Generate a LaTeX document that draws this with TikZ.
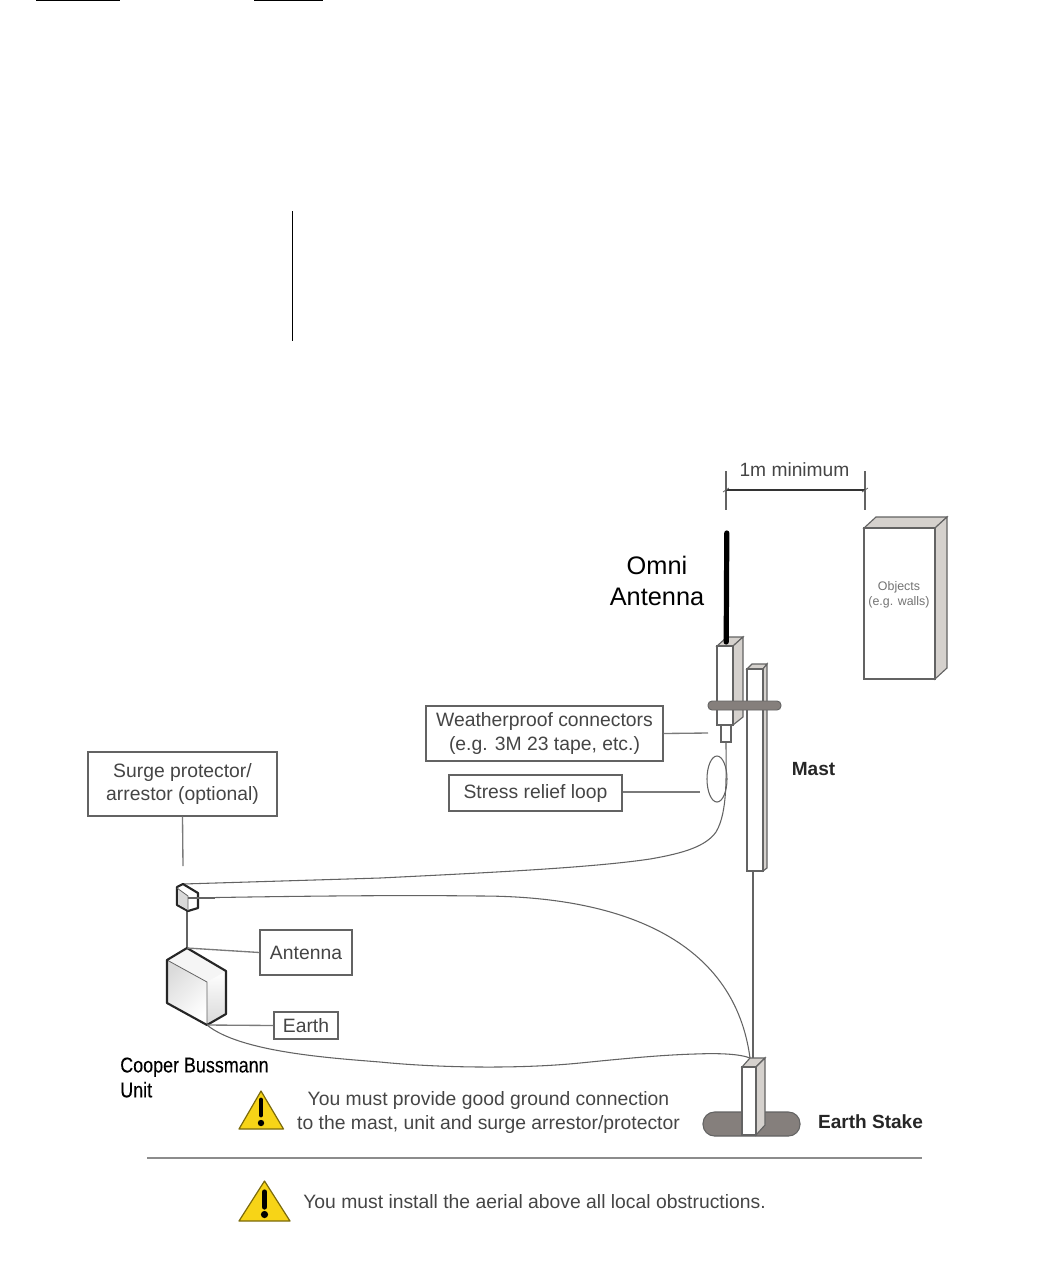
\documentclass[tikz,border=0pt]{standalone}
\usepackage{fontspec}
\usepackage{graphicx}
\setmainfont{Liberation Sans}
\usetikzlibrary{shapes.geometric}
\definecolor{txt}{HTML}{454545}
\definecolor{edge}{HTML}{636363}
\definecolor{sidegray}{HTML}{D5D1CD}
\definecolor{band}{HTML}{857F7C}
\definecolor{warn}{HTML}{F7D417}
\tikzset{
  x=0.75pt,y=-0.75pt,
  labelbox/.style={draw=edge,line width=0.8pt,fill=white,align=center,text=txt,font=\fontsize{14.5pt}{17.5pt}\selectfont,inner sep=0pt,anchor=center},
  leader/.style={draw=edge!85,line width=1pt},
  cable/.style={draw=edge,line width=0.8pt},
  solid3d/.style={draw=edge,line width=0.85pt,fill=white},
  side3d/.style={draw=edge,line width=0.85pt,fill=sidegray},
  caption/.style={text=txt,font=\fontsize{14.5pt}{17.5pt}\selectfont,inner sep=0pt},
  boldcap/.style={text=black!85,font=\bfseries\fontsize{14.3pt}{16pt}\selectfont,inner sep=0pt},
  warntri/.style={draw=black!50!warn,line width=0.9pt,fill=warn,line join=round},
}
\begin{document}
\begin{tikzpicture}
\useasboundingbox (0,0) rectangle (1044,1265);
% page fragments
\draw[black,line width=1.1pt] (36,0.5) -- (120,0.5);
\draw[black,line width=1.1pt] (254,0.5) -- (323,0.5);
\draw[black,line width=0.75pt] (292.5,211) -- (292.5,341);
% dimension
\coordinate (dimL) at (726,490); \coordinate (dimR) at (865,490);
\draw[edge,line width=0.8pt] (726,471) -- (726,510);
\draw[edge,line width=0.8pt] (865,471) -- (865,510);
\draw[black!80,line width=0.9pt] (dimL) -- (dimR);
\draw[edge,line width=0.6pt] (723,492) -- (729,488);
\draw[edge,line width=0.6pt] (862,492) -- (868,488);
\node[caption,font=\fontsize{14.4pt}{16pt}\selectfont] (dimtext) at (794.5,470) {1m minimum};
% objects
\draw[side3d] (864,528) -- (876,517) -- (947,517) -- (935,528) -- cycle;
\draw[side3d] (935,528) -- (947,517) -- (947,668) -- (935,679) -- cycle;
\draw[solid3d] (864,528) rectangle (935,679);
\node[text=black!55,font=\fontsize{9.3pt}{11.3pt}\selectfont,align=center,inner sep=0pt] (objects) at (899,595) {Objects\\(e.g. walls)};
% Earth stake pad
\draw[draw=edge,line width=0.8pt,fill=band,rounded corners=11.5*0.75pt] (703,1112) rectangle (800,1136);
% mast
\draw[side3d] (747,669) -- (752,664) -- (767,664) -- (763,669) -- cycle;
\draw[side3d] (763,669) -- (767,664) -- (767,868) -- (763,871) -- cycle;
\draw[solid3d] (747,669) rectangle (763,871);
% antenna housing
\draw[side3d] (717,646) -- (727,637) -- (743,637) -- (733,646) -- cycle;
\draw[side3d] (733,646) -- (743,637) -- (743,717) -- (733,725) -- cycle;
\draw[solid3d] (717,646) rectangle (733,725);
\draw[black,line width=3.9pt,line cap=round] (726.8,533) -- (726.2,642);
\draw[solid3d] (721,725) rectangle (731,742);
\draw[draw=edge,line width=0.7pt,fill=band,rounded corners=3pt] (708,701) rectangle (781,710);
% ground wire mast to stake
\coordinate (mastfoot) at (753,871);
\coordinate (stakeTop) at (750,1058);
% cables
\coordinate (antfoot) at (726,742);
\draw[cable] (antfoot) .. controls (726,775) and (728,812) .. (716,832)
   .. controls (706,846) and (685,853) .. (650,859)
   .. controls (590,868) and (480,873) .. (380,878)
   -- (183,884);
\coordinate (surgeOut) at (188,898);
\draw[cable] (surgeOut) .. controls (300,896) and (400,895) .. (480,896)
   .. controls (630,896) and (735,945) .. (stakeTop);
\coordinate (unitBase) at (207,1025);
\draw[cable] (unitBase) .. controls (240,1052) and (330,1058) .. (380,1062)
   .. controls (440,1068) and (520,1069) .. (580,1063)
   .. controls (620,1059) and (660,1055) .. (695,1054)
   .. controls (720,1053) and (740,1054) .. (stakeTop);
\draw[edge,line width=0.9pt] (mastfoot) -- (753,1058);
% stake
\draw[side3d] (742,1067) -- (750,1058) -- (765,1058) -- (756,1067) -- cycle;
\draw[side3d] (756,1067) -- (765,1058) -- (765,1125) -- (756,1135) -- cycle;
\draw[solid3d] (742,1067) rectangle (756,1135);
% loop
\node[draw=edge,line width=0.8pt,ellipse,minimum width=20*0.75pt,minimum height=46*0.75pt,inner sep=0pt] (loop) at (717,779) {};
% label boxes
\node[labelbox,minimum width=237*0.75pt,minimum height=55*0.75pt] (weather) at (544.5,733.5) {Weatherproof connectors\\(e.g. 3M 23 tape, etc.)};
\node[labelbox,minimum width=173*0.75pt,minimum height=36*0.75pt] (stress) at (535.5,793) {Stress relief loop};
\node[labelbox,minimum width=189*0.75pt,minimum height=64*0.75pt] (surgebox) at (182.5,784) {Surge protector/\\arrestor (optional)};
\node[labelbox,minimum width=92*0.75pt,minimum height=45*0.75pt] (antbox) at (306,952.5) {Antenna};
\node[labelbox,minimum width=64*0.75pt,minimum height=27*0.75pt] (earthbox) at (306,1025.5) {Earth};
% leaders
\coordinate (weatherEnd) at (708,733);
\draw[leader] (weather.east) -- (weatherEnd);
\coordinate (stressEnd) at (700,792);
\draw[leader] (stress.east |- stressEnd) -- (stressEnd);
\coordinate (surgeEnd) at (183,866);
\draw[leader] (surgebox.south) -- (surgeEnd);
% surge protector
\draw[edge,line width=0.8pt] (187,911) -- (187,948);
\draw[black!85,line width=1.6pt,fill=white,line join=round] (183,884) -- (198,893) -- (198,908) -- (188,911) -- (177,905) -- (177,887) -- cycle;
\fill[black!15] (178,889) -- (188,896) -- (188,910) -- (178,904) -- cycle;
\draw[edge,line width=0.6pt] (177,888) -- (188,896) -- (188,911);
\draw[cable] (188,898) -- (215,898);
% unit
\coordinate (unitTop) at (187,948);
\shade[left color=black!14,right color=white,shading angle=45] (167,960) -- (207,982) -- (207,1025) -- (167,1003) -- cycle;
\shade[top color=white,bottom color=black!15] (207,982) -- (226,971) -- (226,1014) -- (207,1025) -- cycle;
\fill[black!4] (187,948) -- (226,971) -- (207,982) -- (167,960) -- cycle;
\draw[edge,line width=0.6pt] (167,960) -- (207,982) -- (207,1025);
\draw[black!85,line width=1.6pt,line join=round] (187,948) -- (226,971) -- (226,1014) -- (207,1025) -- (167,1003) -- (167,960) -- cycle;
\draw[leader] (unitTop) -- (antbox.west);
\draw[leader] (unitBase) -- (earthbox.west);
% headings
\node[text=black,font=\fontsize{19pt}{23.3pt}\selectfont,align=center,inner sep=0pt] (omni) at (657,581) {Omni\\Antenna};
\node[boldcap] (mast) at (813.5,769) {Mast};
\node[boldcap] (stake) at (870.5,1122) {Earth Stake};
\node[inner sep=0pt,anchor=west,align=left,text=black,font=\fontsize{16pt}{18.7pt}\selectfont] (cooper) at (120,1077.5) {\scalebox{0.84}[1]{\addfontfeature{FakeBold=0.25}Cooper Bussmann}\\\scalebox{0.84}[1]{\addfontfeature{FakeBold=0.25}Unit}};
% warnings
\draw[warntri] (261,1091) -- (283.5,1129) -- (239,1129) -- cycle;
\draw[black,line width=3.6pt,line cap=round] (261,1100) -- (261,1115);
\fill[black] (261,1123) circle (3.2);
\node[caption,align=center] (warn1) at (488.5,1112.5) {You must provide good ground connection\\to the mast, unit and surge arrestor/protector};
\draw[black!45,line width=1.2pt] (147,1158) -- (922,1158);
\draw[warntri] (264.5,1181) -- (290,1221) -- (239,1221) -- cycle;
\draw[black,line width=3.9pt,line cap=round] (264.5,1192) -- (264.5,1207);
\fill[black] (264.5,1214.5) circle (3.6);
\node[caption] (warn2) at (534.5,1202) {You must install the aerial above all local obstructions.};
\end{tikzpicture}
\end{document}
